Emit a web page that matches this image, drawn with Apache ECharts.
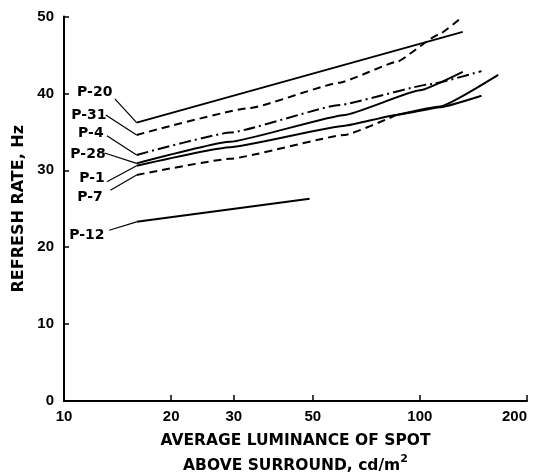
<!DOCTYPE html>
<html><head><meta charset="utf-8">
<script src="https://cdn.jsdelivr.net/npm/echarts@6/dist/echarts.min.js"></script>
<style>html,body{margin:0;padding:0;background:#fff}#c{width:537px;height:472px}</style>
</head><body><div id="c"></div>
<script>
// ---- tick labels ----
const xTicks = [10, 20, 30, 50, 100, 200];
const xTickMarks = [20, 30, 50, 100, 200];
const yMin = 0, yMax = 50, yStep = 10;

// ---- phosphor names ----
const names = ['P-20', 'P-31', 'P-4', 'P-28', 'P-1', 'P-7', 'P-12'];

// ---- curves: luminance (cd/m2) and refresh rate (Hz) ----
const lumP20 = [16, 132];
const hzP20  = [36.2, 48.0];
const lumP31 = [16, 33.3, 59.6, 86.1, 112.4, 131.2];
const hzP31  = [34.6, 38.1, 41.4, 44.1, 47.6, 49.9];
const lumP4  = [16, 29.3, 59.6, 107, 149];
const hzP4   = [32.0, 34.9, 38.5, 41.2, 42.9];
const lumP28 = [16, 29.3, 61.6, 100, 132];
const hzP28  = [30.9, 33.7, 37.2, 40.4, 42.8];
const lumP1  = [16, 29.3, 61.6, 86, 114, 149];
const hzP1   = [30.6, 33.0, 35.8, 37.2, 38.2, 39.7];
const lumP7  = [16, 29.3, 61.6, 86, 114, 166];
const hzP7   = [29.4, 31.5, 34.6, 37.2, 38.3, 42.4];
const lumP12 = [16, 49];
const hzP12  = [23.3, 26.3];

// ---- annotation anchors (data units) ----
const labelLum  = [12.2, 11.75, 11.9, 11.68, 11.99, 11.83, 11.6];
const labelHz   = [40.2, 37.2, 34.85, 32.1, 29.0, 26.5, 21.6];
const leaderLum = [13.9, 13.1, 13.2, 13.0, 13.2, 13.5, 13.4];
const leaderHz  = [39.3, 37.2, 34.5, 32.25, 28.5, 27.4, 22.2];

const zip = (a, b) => a.map((v, i) => [v, b[i]]);
const curveLum = [lumP20, lumP31, lumP4, lumP28, lumP1, lumP7, lumP12];
const curveHz  = [hzP20, hzP31, hzP4, hzP28, hzP1, hzP7, hzP12];

const DASH = [8, 5];
const DASHDOT = [12, 4, 2, 4];
const styles = ['solid', DASH, DASHDOT, 'solid', 'solid', DASH, 'solid'];

const TICKFONT = '"Liberation Sans", Arial, sans-serif';
const TITLEFONT = '"DejaVu Sans", sans-serif';

const SMOOTH = 0.12;
const series = [];
names.forEach((n, i) => {
  const data = zip(curveLum[i], curveHz[i]);
  if (n === 'P-7') {
    // dashed until it joins P-1, solid afterwards
    series.push({ name: n, type: 'line', data: data.slice(0, 4), showSymbol: false, symbol: 'none',
      smooth: SMOOTH, smoothMonotone: 'x', silent: true,
      lineStyle: { color: '#000', width: 2, type: DASH } });
    series.push({ name: n + ' tail', type: 'line', data: data.slice(3), showSymbol: false, symbol: 'none',
      smooth: SMOOTH, smoothMonotone: 'x', silent: true,
      lineStyle: { color: '#000', width: 2, type: 'solid' } });
  } else {
    series.push({ name: n, type: 'line', data: data, showSymbol: false, symbol: 'none',
      smooth: SMOOTH, smoothMonotone: 'x', silent: true,
      lineStyle: { color: '#000', width: 2, type: styles[i] } });
  }
});
// leader lines from label to curve start
series.push({
  type: 'lines', coordinateSystem: 'cartesian2d', silent: true, z: 3,
  lineStyle: { color: '#000', width: 1.2, opacity: 1 },
  data: names.map((n, i) => ({ coords: [[leaderLum[i], leaderHz[i]], [curveLum[i][0], curveHz[i][0]]] }))
});
// curve labels
series.push({
  type: 'scatter', silent: true, symbolSize: 0, z: 4,
  itemStyle: { opacity: 1, color: '#000' },
  data: names.map((n, i) => ({ name: n, value: [labelLum[i], labelHz[i]] })),
  label: { show: true, position: 'inside', formatter: '{b}', color: '#000', opacity: 1,
    fontFamily: TITLEFONT, fontWeight: 'bold', fontSize: 14 }
});

const chart = echarts.init(document.getElementById('c'), null, { renderer: 'canvas' });
chart.setOption({
  animation: false,
  backgroundColor: '#fff',
  grid: { left: 64, right: 10, top: 16.5, bottom: 71, containLabel: false, outerBoundsMode: 'none' },
  xAxis: {
    type: 'log', logBase: 10, min: 10, max: 200,
    axisLine: { show: true, lineStyle: { color: '#000', width: 2 } },
    axisTick: { show: true, inside: true, length: 6, customValues: xTickMarks, lineStyle: { color: '#000', width: 1.5 } },
    minorTick: { show: false },
    splitLine: { show: false },
    axisLabel: { customValues: xTicks, color: '#000', fontFamily: TICKFONT, fontWeight: 'bold', fontSize: 15, margin: 8,
      alignMaxLabel: 'right' },
    name: 'AVERAGE LUMINANCE OF SPOT\nABOVE SURROUND, cd/m{sup|2}',
    nameLocation: 'middle', nameGap: 19,
    nameTextStyle: { color: '#000', fontFamily: TITLEFONT, fontWeight: 'bold', fontSize: 15.5, lineHeight: 25,
      rich: { sup: { fontFamily: TITLEFONT, fontWeight: 'bold', fontSize: 11, verticalAlign: 'top', lineHeight: 16, color: '#000' } } }
  },
  yAxis: {
    type: 'value', min: yMin, max: yMax, interval: yStep,
    axisLine: { show: true, lineStyle: { color: '#000', width: 2 } },
    axisTick: { show: true, inside: true, length: 5, lineStyle: { color: '#000', width: 1.5 } },
    splitLine: { show: false },
    axisLabel: { color: '#000', fontFamily: TICKFONT, fontWeight: 'bold', fontSize: 15, margin: 10 },
    name: 'REFRESH RATE, Hz', nameLocation: 'middle', nameRotate: 90, nameGap: 32,
    nameTextStyle: { color: '#000', fontFamily: TITLEFONT, fontWeight: 'bold', fontSize: 16 }
  },
  series: series
});
</script>
</body></html>
